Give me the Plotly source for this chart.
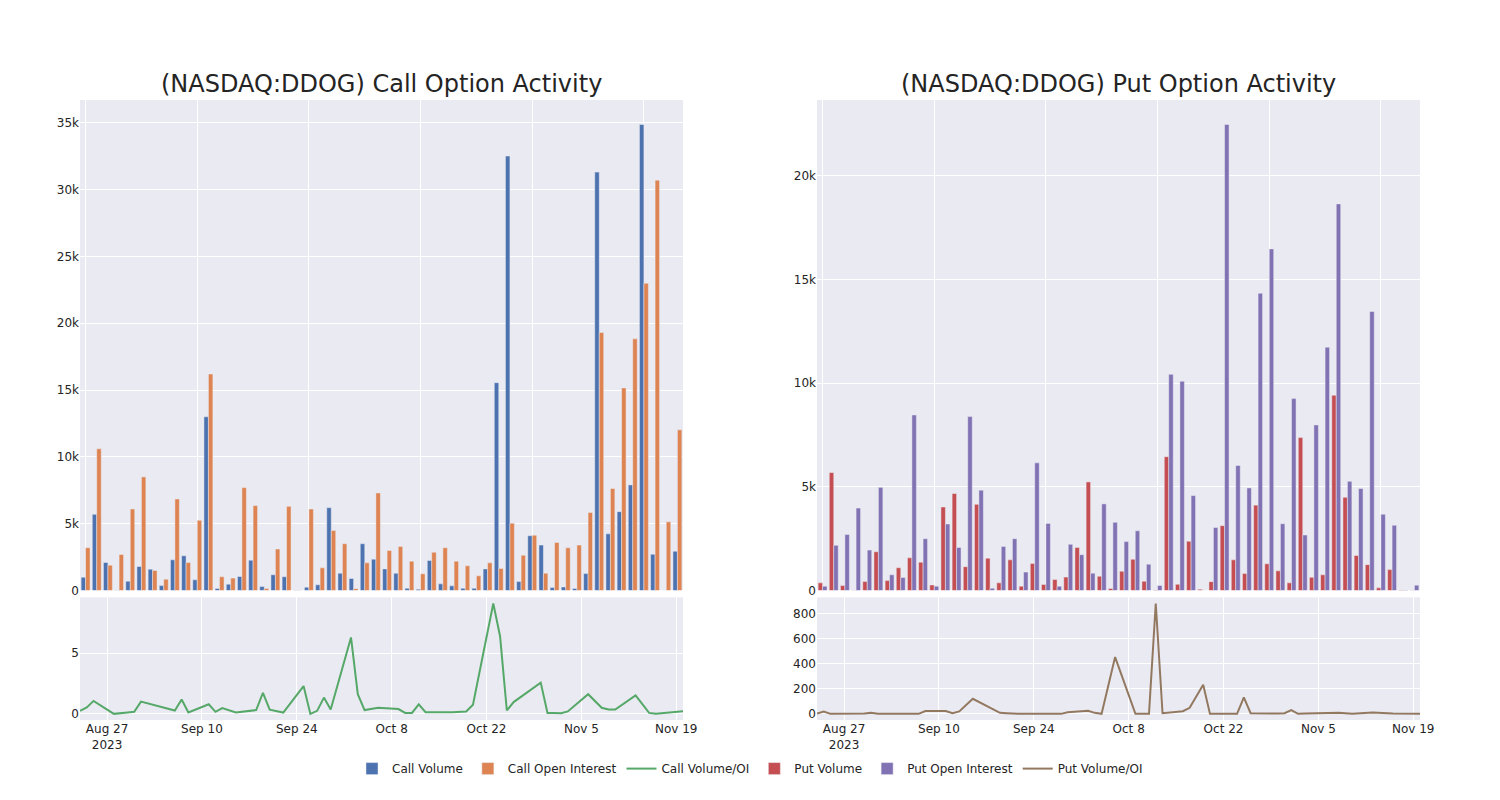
import plotly.graph_objects as go
from plotly.subplots import make_subplots

dates = ["2023-08-23", "2023-08-24", "2023-08-25", "2023-08-28", "2023-08-30", "2023-08-31",
         "2023-09-01", "2023-09-05", "2023-09-06", "2023-09-07", "2023-09-08", "2023-09-11",
         "2023-09-12", "2023-09-13", "2023-09-15", "2023-09-18", "2023-09-19", "2023-09-20",
         "2023-09-22", "2023-09-25", "2023-09-26", "2023-09-27", "2023-09-28", "2023-09-29",
         "2023-10-02", "2023-10-03", "2023-10-04", "2023-10-06", "2023-10-09", "2023-10-10",
         "2023-10-11", "2023-10-12", "2023-10-13", "2023-10-16", "2023-10-17", "2023-10-19",
         "2023-10-20", "2023-10-23", "2023-10-24", "2023-10-25", "2023-10-26", "2023-10-30",
         "2023-10-31", "2023-11-01", "2023-11-02", "2023-11-03", "2023-11-06", "2023-11-08",
         "2023-11-09", "2023-11-10", "2023-11-13", "2023-11-15", "2023-11-16", "2023-11-20"]

call_volume = [1000, 5700, 2100, 20, 700, 1800, 1600, 370, 2300, 2600, 800, 13000,
               150, 480, 1050, 2270, 300, 1180, 1030, 30, 250, 430, 6200, 1300,
               900, 3500, 2350, 1620, 1300, 170, 100, 2250, 500, 350, 170, 170,
               1620, 15550, 32500, 670, 4100, 3400, 220, 270, 150, 1270, 31300, 4240,
               5900, 7900, 34860, 2720, 5, 2940]

call_oi = [3200, 10600, 1900, 2700, 6100, 8500, 1500, 850, 6850, 2100, 5250, 16200,
           1030, 930, 7700, 6350, 150, 3100, 6300, 13, 6100, 1700, 4500, 3500,
           140, 2070, 7300, 3000, 3300, 2200, 1250, 2870, 3200, 2200, 1850, 1100,
           2070, 1650, 5040, 2640, 4140, 1300, 3600, 3200, 3400, 5840, 19300, 7630,
           15160, 18830, 22990, 30700, 5140, 12020]

call_ratio = [0.25, 0.53, 1.07, 0.0, 0.11, 0.17, 1.01, 0.43, 0.28, 1.18, 0.11, 0.79,
              0.17, 0.48, 0.12, 0.31, 1.73, 0.34, 0.11, 2.29, 0.0, 0.25, 1.34, 0.36,
              6.3, 1.62, 0.31, 0.5, 0.4, 0.08, 0.08, 0.78, 0.14, 0.14, 0.13, 0.19,
              0.75, 9.1, 6.4, 0.28, 0.97, 2.58, 0.07, 0.07, 0.05, 0.2, 1.62, 0.5,
              0.36, 0.36, 1.53, 0.08, 0.0, 0.22]

put_volume = [370, 5690, 240, 20, 440, 1870, 480, 1100, 1580, 1370, 270, 4030,
              4680, 1150, 4160, 1560, 370, 1480, 210, 1310, 290, 530, 650, 2080,
              5240, 690, 100, 930, 1510, 450, 30, 6460, 300, 2380, 60, 430,
              3130, 1480, 820, 4120, 1290, 950, 370, 7380, 640, 760, 9420, 4500,
              1690, 1250, 130, 1010, 30, 20]

put_oi = [210, 2180, 2700, 3980, 1950, 4980, 760, 630, 8470, 2500, 210, 3210,
          2080, 8390, 4840, 110, 2130, 2500, 890, 6160, 3240, 210, 2230, 1730,
          840, 4180, 3290, 2360, 2880, 1270, 240, 10430, 10100, 4580, 5, 3040,
          22480, 6030, 4950, 14340, 16480, 3220, 9260, 2680, 7990, 11740, 18650, 5270,
          4920, 13460, 3680, 3150, 30, 260]

put_ratio = [3, 18, 0, 0, 3, 8, 0, 0, 0, 0, 22, 22,
             5, 20, 120, 35, 8, 5, 0, 0, 0, 0, 0, 13,
             24, 8, 0, 453, 0, 0, 0, 880, 5, 21, 48, 232,
             0, 0, 0, 131, 5, 3, 5, 30, 0, 2, 8, 8,
             5, 0, 10, 5, 3, 0]

titles = ["(NASDAQ:DDOG) Call Option Activity", "(NASDAQ:DDOG) Put Option Activity"]

fig = make_subplots(rows=2, cols=2, row_heights=[0.8, 0.2], vertical_spacing=0.011,
                    horizontal_spacing=0.1, subplot_titles=(titles[0], titles[1], "", ""))

fig.add_trace(go.Bar(x=dates, y=call_volume, name="Call Volume"), row=1, col=1)
fig.add_trace(go.Bar(x=dates, y=call_oi, name="Call Open Interest"), row=1, col=1)
fig.add_trace(go.Scatter(x=dates, y=call_ratio, name="Call Volume/OI", mode="lines"), row=2, col=1)
fig.add_trace(go.Bar(x=dates, y=put_volume, name="Put Volume"), row=1, col=2)
fig.add_trace(go.Bar(x=dates, y=put_oi, name="Put Open Interest"), row=1, col=2)
fig.add_trace(go.Scatter(x=dates, y=put_ratio, name="Put Volume/OI", mode="lines"), row=2, col=2)

fig.update_layout(
    template="seaborn",
    width=1484, height=787,
    margin=dict(l=72, r=72, t=92, b=72),
    barmode="group",
    font=dict(family="DejaVu Sans"),
    legend=dict(orientation="h", x=0.5, xanchor="center", y=-0.055, yanchor="top"),
)
for ax in ["xaxis", "xaxis2"]:
    fig.layout[ax].update(type="category", showticklabels=False, tickmode="linear", tick0=0, dtick=10)
for ann in fig.layout.annotations:
    ann.font.size = 24
    ann.font.family = "DejaVu Sans"

fig.write_html("out.html")
